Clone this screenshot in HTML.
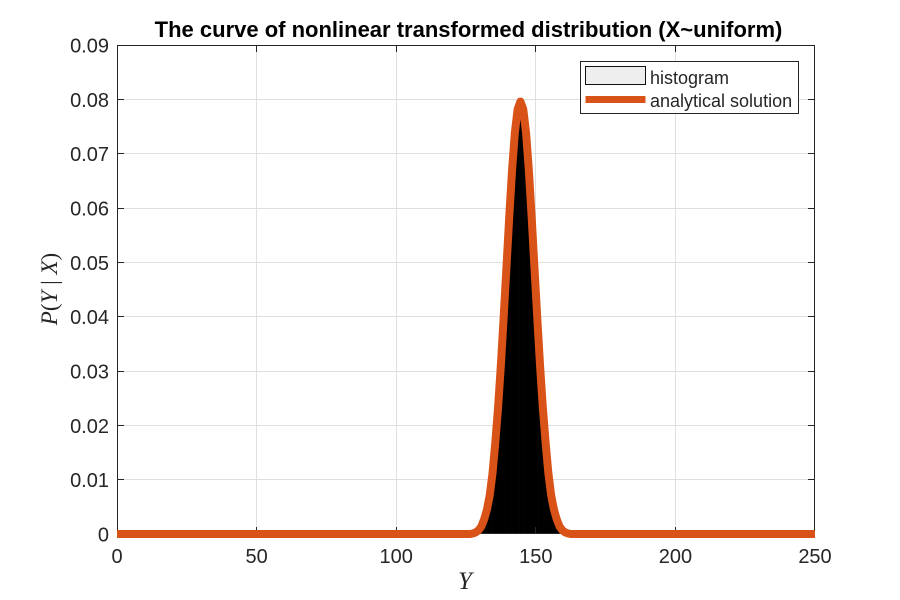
<!DOCTYPE html>
<html>
<head>
<meta charset="utf-8">
<style>
html,body{margin:0;padding:0;background:#fff}
svg{display:block}
text{font-family:"Liberation Sans",sans-serif;fill:#262626}
</style>
</head>
<body>
<svg id="chart" width="900" height="600" viewBox="0 0 900 600" xmlns="http://www.w3.org/2000/svg">
<defs><clipPath id="plot-clip"><rect x="117" y="0" width="698" height="600"/></clipPath></defs>
<rect x="0" y="0" width="900" height="600" fill="#ffffff"/>
<g id="grid"></g>
<g id="hist"></g>
<g id="axes"></g>
<g id="curve-layer" clip-path="url(#plot-clip)"></g>
<text x="468.5" y="37" text-anchor="middle" font-size="22" font-weight="bold" style="fill:#000">The curve of nonlinear transformed distribution (X~uniform)</text>
<text x="465" y="589" text-anchor="middle" font-size="25" style="font-family:'Liberation Serif',serif;font-style:italic">Y</text>
<text transform="translate(57,289) rotate(-90)" text-anchor="middle" font-size="23" style="font-family:'Liberation Serif',serif;font-style:italic">P<tspan font-style="normal">(</tspan>Y<tspan font-style="normal"> | </tspan>X<tspan font-style="normal">)</tspan></text>
<g>
<rect x="580.5" y="61.5" width="218" height="52" fill="#ffffff" stroke="#262626" stroke-width="1"/>
<rect x="585.5" y="66.5" width="60" height="18" fill="#eeeeef" stroke="#111111" stroke-width="1"/>
<text x="650" y="84" font-size="18">histogram</text>
<line x1="585.5" y1="99.5" x2="645.5" y2="99.5" stroke="#d95319" stroke-width="7"/>
<text x="650" y="107" font-size="18">analytical solution</text>
</g>
</svg>
<script>
const xTicks = [0, 50, 100, 150, 200, 250];
const yTicks = [0, 0.01, 0.02, 0.03, 0.04, 0.05, 0.06, 0.07, 0.08, 0.09];
const yTickLabels = ['0', '0.01', '0.02', '0.03', '0.04', '0.05', '0.06', '0.07', '0.08', '0.09'];
const binCenters = [124.5,125.5,126.5,127.5,128.5,129.5,130.5,131.5,132.5,133.5,134.5,135.5,136.5,137.5,138.5,139.5,140.5,141.5,142.5,143.5,144.5,145.5,146.5,147.5,148.5,149.5,150.5,151.5,152.5,153.5,154.5,155.5,156.5,157.5,158.5,159.5,160.5,161.5,162.5,163.5,164.5];
const histHeights = [0,0,0,0.0001,0.0003,0.0007,0.0014,0.0027,0.0045,0.0071,0.0112,0.0169,0.0234,0.0312,0.04,0.0492,0.0585,0.067,0.0739,0.0782,0.0796,0.0782,0.0739,0.067,0.0585,0.0492,0.04,0.0312,0.0234,0.0169,0.0112,0.0071,0.0045,0.0027,0.0014,0.0007,0.0003,0.0001,0,0,0];
const curveY = [0,124.5,125.5,126.5,127.5,128.5,129.5,130.5,131.5,132.5,133.5,134.5,135.5,136.5,137.5,138.5,139.5,140.5,141.5,142.5,143.5,144.5,145.5,146.5,147.5,148.5,149.5,150.5,151.5,152.5,153.5,154.5,155.5,156.5,157.5,158.5,159.5,160.5,161.5,162.5,163.5,164.5,250];
const curveP = [0,0,0,0,0.0001,0.0003,0.0007,0.0014,0.0027,0.0045,0.0071,0.0112,0.0169,0.0234,0.0312,0.04,0.0492,0.0585,0.067,0.0739,0.0782,0.0796,0.0782,0.0739,0.067,0.0585,0.0492,0.04,0.0312,0.0234,0.0169,0.0112,0.0071,0.0045,0.0027,0.0014,0.0007,0.0003,0.0001,0,0,0,0];

const NS = 'http://www.w3.org/2000/svg';
const plotLeft = 117, plotRight = 815, plotTop = 45, plotBottom = 534;
const xMax = 250, yMax = 0.09;
function sx(v) { return plotLeft + (v / xMax) * (plotRight - plotLeft); }
function sy(v) { return plotBottom - (v / yMax) * (plotBottom - plotTop); }
function gridX(v) { return Math.min(Math.floor(sx(v)) + 0.5, plotRight - 0.5); }
function gridY(v) { return Math.min(Math.floor(sy(v)) + 0.5, plotBottom - 0.5); }
function mk(tag, attrs, parent) {
  const el = document.createElementNS(NS, tag);
  for (const k in attrs) el.setAttribute(k, attrs[k]);
  parent.appendChild(el);
  return el;
}
const gridG = document.getElementById('grid');
const axesG = document.getElementById('axes');
const histG = document.getElementById('hist');
const curveG = document.getElementById('curve-layer');

xTicks.forEach(function (t) {
  const x = gridX(t);
  if (t > 0 && t < xMax) {
    const g = mk('line', {x1: x, y1: plotTop, x2: x, y2: plotBottom, stroke: '#dfdfdf', 'stroke-width': 1}, gridG);
    
    
  }
});
yTicks.forEach(function (t) {
  const y = gridY(t);
  if (t > 0 && t < yMax) {
    const g = mk('line', {x1: plotLeft, y1: y, x2: plotRight, y2: y, stroke: '#dfdfdf', 'stroke-width': 1}, gridG);
    
    
  }
});

binCenters.forEach(function (c, i) {
  const y0 = sy(histHeights[i]);
  const b = mk('rect', {x: sx(c - 0.5), y: y0, width: sx(c + 0.5) - sx(c - 0.5) + 0.3, height: plotBottom - y0, fill: '#000000'}, histG);
  
  
});

const frame = mk('rect', {x: plotLeft + 0.5, y: plotTop + 0.5, width: plotRight - plotLeft - 1, height: plotBottom - plotTop - 1, fill: 'none', stroke: '#262626', 'stroke-width': 1}, axesG);



xTicks.forEach(function (t) {
  const x = gridX(t);
  const a = mk('line', {x1: x, y1: plotBottom, x2: x, y2: plotBottom - 7, stroke: '#262626', 'stroke-width': 1}, axesG);
  
  
  const b = mk('line', {x1: x, y1: plotTop, x2: x, y2: plotTop + 7, stroke: '#262626', 'stroke-width': 1}, axesG);
  
  
  const l = mk('text', {x: sx(t), y: 563, 'text-anchor': 'middle', 'font-size': 20}, axesG);
  
  
  l.textContent = String(t);
});
yTicks.forEach(function (t, i) {
  const y = gridY(t);
  const a = mk('line', {x1: plotLeft, y1: y, x2: plotLeft + 7, y2: y, stroke: '#262626', 'stroke-width': 1}, axesG);
  
  
  const b = mk('line', {x1: plotRight, y1: y, x2: plotRight - 7, y2: y, stroke: '#262626', 'stroke-width': 1}, axesG);
  
  
  const l = mk('text', {x: 109, y: sy(t) + 7.5, 'text-anchor': 'end', 'font-size': 20}, axesG);
  
  
  l.textContent = yTickLabels[i];
});

const pts = curveY.map(function (v, i) { return sx(v).toFixed(2) + ',' + sy(curveP[i]).toFixed(2); }).join(' ');
const curve = mk('polyline', {points: pts, fill: 'none', stroke: '#d95319', 'stroke-width': 8, 'stroke-linejoin': 'round'}, curveG);


</script>
</body>
</html>
